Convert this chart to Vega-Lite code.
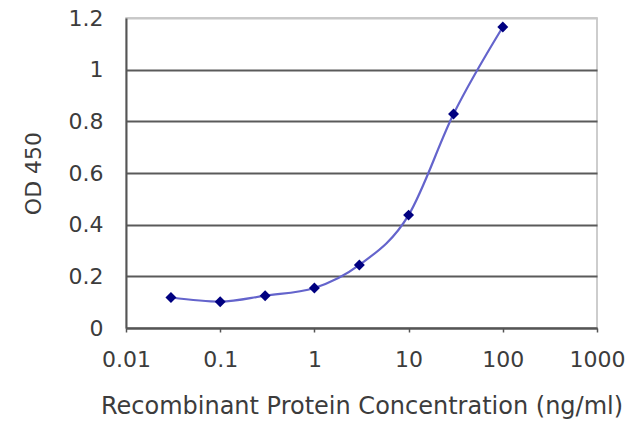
{
  "$schema": "https://vega.github.io/schema/vega-lite/v6.json",
  "width": 471,
  "height": 310,
  "autosize": "none",
  "padding": {"left": 126, "top": 18, "right": 43, "bottom": 99},
  "background": "white",
  "config": {
    "view": {"stroke": "#bdbdbd", "strokeWidth": 1.5},
    "font": "DejaVu Sans"
  },
  "data": {
    "values": [
      {"conc": 0.03, "od": 0.118},
      {"conc": 0.1, "od": 0.102},
      {"conc": 0.3, "od": 0.125},
      {"conc": 1, "od": 0.155},
      {"conc": 3, "od": 0.244},
      {"conc": 10, "od": 0.437},
      {"conc": 30, "od": 0.828},
      {"conc": 100, "od": 1.165}
    ]
  },
  "encoding": {
    "x": {
      "field": "conc",
      "type": "quantitative",
      "scale": {"type": "log", "domain": [0.01, 1000]},
      "axis": {
        "title": "Recombinant Protein Concentration (ng/ml)",
        "values": [0.01, 0.1, 1, 10, 100, 1000],
        "format": "~g",
        "grid": false,
        "labelFlush": false,
        "domainColor": "#555555",
        "domainWidth": 2,
        "tickColor": "#555555",
        "tickWidth": 1.5,
        "tickSize": 4,
        "labelFontSize": 22,
        "labelColor": "#3c3c3c",
        "labelPadding": 17,
        "titleFontSize": 24,
        "titleFontWeight": "normal",
        "titleColor": "#3c3c3c",
        "titlePadding": 24
      }
    },
    "y": {
      "field": "od",
      "type": "quantitative",
      "scale": {"domain": [0, 1.2]},
      "axis": {
        "title": "OD 450",
        "values": [0, 0.2, 0.4, 0.6, 0.8, 1, 1.2],
        "format": "~g",
        "grid": true,
        "gridColor": {"condition": {"test": "datum.value >= 1.19", "value": "#c8c8c8"}, "value": "#5a5a5a"},
        "gridWidth": 1.8,
        "domainColor": "#555555",
        "domainWidth": 2,
        "ticks": false,
        "labelFontSize": 22,
        "labelColor": "#3c3c3c",
        "labelPadding": 23,
        "titleFontSize": 22,
        "titleFontWeight": "normal",
        "titleColor": "#3c3c3c",
        "titlePadding": 23
      }
    }
  },
  "layer": [
    {
      "mark": {"type": "line", "interpolate": "monotone", "color": "#6464cc", "strokeWidth": 2.2}
    },
    {
      "mark": {"type": "point", "shape": "diamond", "filled": true, "color": "#000080", "opacity": 1, "size": 120}
    }
  ]
}
